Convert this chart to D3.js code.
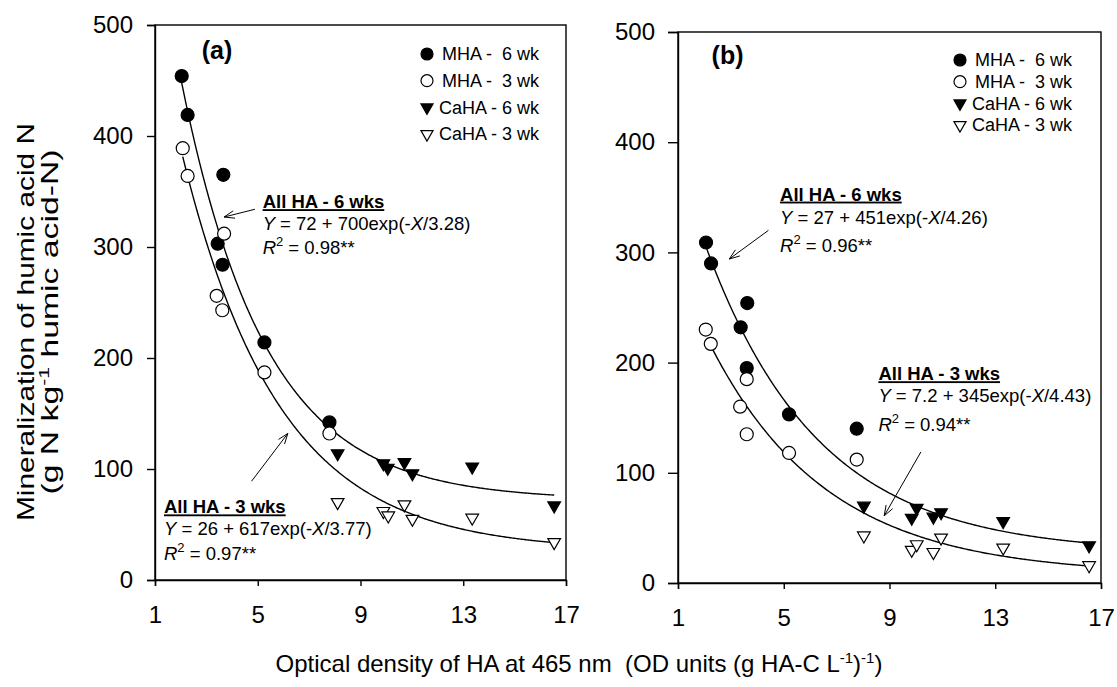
<!DOCTYPE html>
<html>
<head>
<meta charset="utf-8">
<script src="https://cdn.jsdelivr.net/npm/d3@7"></script>
<style>
  body { margin: 0; background: #fff; }
  svg { display: block; }
  text { font-family: "Liberation Sans", Arial, sans-serif; fill: #000; }
</style>
</head>
<body>
<div class="chart"></div>
<script>
// axis ticks, shared by both panels
const xTicks = [1, 5, 9, 13, 17];
const yTicks = [0, 100, 200, 300, 400, 500];
const legendNames = ["MHA -  6 wk", "MHA -  3 wk", "CaHA - 6 wk", "CaHA - 3 wk"];

// panel (a) data, [OD, mineralized N]
const aMha6 = [[2.04, 454], [2.27, 419], [3.66, 365], [3.44, 303], [3.63, 284], [5.26, 214], [7.79, 142]];
const aMha3 = [[2.08, 389], [2.27, 364], [3.69, 312], [3.40, 256], [3.62, 243], [5.26, 187], [7.79, 132]];
const aCa6 = [[8.11, 114], [9.89, 105], [10.06, 101], [10.71, 106], [11.02, 96], [13.35, 102], [16.54, 67]];
const aCa3 = [[8.11, 70], [9.89, 62], [10.08, 58], [10.71, 68], [11.02, 55], [13.35, 56], [16.54, 34]];

// panel (b) data
const bMha6 = [[2.06, 309], [2.25, 290], [3.62, 254], [3.37, 232], [3.60, 195], [5.20, 153], [7.76, 140]];
const bMha3 = [[2.05, 230], [2.24, 217], [3.60, 185], [3.35, 160], [3.60, 135], [5.20, 118], [7.76, 112]];
const bCa6 = [[8.03, 70], [9.84, 59], [10.03, 68], [10.66, 60], [10.95, 64], [13.30, 56], [16.55, 34]];
const bCa3 = [[8.03, 43], [9.84, 30], [10.03, 35], [10.66, 28], [10.95, 41], [13.30, 32], [16.55, 16]];

// fitted curves Y = c + a*exp(-X/k) as printed on the chart: [c, a, k], plus drawn X range
const aFit6 = [72, 700, 3.28], aFit6Range = [2.04, 16.54];
const aFit3 = [26, 617, 3.77], aFit3Range = [2.08, 16.54];
const bFit6 = [27, 451, 4.26], bFit6Range = [2.06, 16.55];
const bFit3 = [7.2, 345, 4.43], bFit3Range = [2.20, 16.55];

const width = 1117, height = 687;

const svg = d3.select(".chart")
    .append("svg")
    .attr("width", width)
    .attr("height", height);

svg.append("rect").attr("width", width).attr("height", height).attr("fill", "#fff");

const panels = [
  {
    label: "(a)", labelAt: [2.82, 469],
    box: {left: 155, right: 566, top: 25, bottom: 580},
    yTick: 8, yPad: 14,
    series: [aMha6, aMha3, aCa6, aCa3],
    fits: [[aFit6, aFit6Range], [aFit3, aFit3Range]],
    legend: {x: 272, y: 29, step: 26.7},
    notes: [
      {at: [5.19, 335], gaps: [0, 22, 46], title: "All HA - 6 wks", c: "72", a: "700", k: "3.28", r2: "0.98**",
       arrow: [[4.89, 334], [3.69, 327]]},
      {at: [1.35, 60], gaps: [0, 22, 47], title: "All HA - 3 wks", c: "26", a: "617", k: "3.77", r2: "0.97**",
       arrow: [[4.76, 89], [6.17, 132]]}
    ]
  },
  {
    label: "(b)", labelAt: [2.27, 471],
    box: {left: 678, right: 1101, top: 32, bottom: 583},
    yTick: 10, yPad: 13,
    series: [bMha6, bMha3, bCa6, bCa3],
    fits: [[bFit6, bFit6Range], [bFit3, bFit3Range]],
    legend: {x: 282, y: 28, step: 21.7},
    notes: [
      {at: [4.86, 347], gaps: [0, 23, 51], title: "All HA - 6 wks", c: "27", a: "451", k: "4.26", r2: "0.96**",
       arrow: [[4.42, 320], [2.94, 294]]},
      {at: [8.58, 184], gaps: [0, 22, 51], title: "All HA - 3 wks", c: "7.2", a: "345", k: "4.43", r2: "0.94**",
       arrow: [[10.19, 119], [8.80, 61]]}
    ]
  }
];

// marker look per series: circle or down triangle, filled or open
const markerStyle = [
  {shape: "circle", fill: "#000"},
  {shape: "circle", fill: "#fff"},
  {shape: "triangle", fill: "#000"},
  {shape: "triangle", fill: "#fff"}
];

function addMarker(g, style, x, y, r) {
  if (style.shape === "circle") {
    g.append("circle")
      .attr("cx", x).attr("cy", y).attr("r", r)
      .attr("fill", style.fill)
      .attr("stroke", "#000").attr("stroke-width", 1.2);
  } else {
    const s = r * 1.95;
    g.append("path")
      .attr("d", d3.symbol().type(d3.symbolTriangle).size(s * s * 0.433)())
      .attr("transform", `translate(${x},${y}) rotate(180)`)
      .attr("fill", style.fill)
      .attr("stroke", "#000").attr("stroke-width", 1.2);
  }
}

panels.forEach(p => {
  const b = p.box;
  const x = d3.scaleLinear().domain([1, 17]).range([b.left, b.right]);
  const y = d3.scaleLinear().domain([0, 500]).range([b.bottom, b.top]);
  const g = svg.append("g");

  // frame
  g.append("rect")
    .attr("x", b.left).attr("y", b.top)
    .attr("width", b.right - b.left).attr("height", b.bottom - b.top)
    .attr("fill", "none").attr("stroke", "#000").attr("stroke-width", 1.4);

  const yAxis = d3.axisLeft(y).tickValues(yTicks).tickSize(p.yTick).tickPadding(p.yPad);
  const xAxis = d3.axisBottom(x).tickValues(xTicks).tickSize(6).tickPadding(20);

  const ya = g.append("g").attr("transform", `translate(${b.left},0)`).call(yAxis);
  const xa = g.append("g").attr("transform", `translate(0,${b.bottom})`).call(xAxis);
  [ya, xa].forEach(a => {
    a.attr("font-family", null).attr("font-size", null);
    a.select(".domain").attr("stroke", "#000").attr("stroke-width", 1.4);
    a.selectAll(".tick line").attr("stroke", "#000").attr("stroke-width", 1.4);
    a.selectAll(".tick text").attr("font-size", 24).attr("fill", "#000");
  });

  // fitted curves
  const line = d3.line().x(d => x(d[0])).y(d => y(d[1]));
  p.fits.forEach(([f, r]) => {
    const xs = d3.range(r[0], r[1], 0.05).concat([r[1]]);
    g.append("path")
      .datum(xs.map(v => [v, f[0] + f[1] * Math.exp(-v / f[2])]))
      .attr("d", line)
      .attr("fill", "none").attr("stroke", "#000").attr("stroke-width", 1.4);
  });

  // data markers
  p.series.forEach((s, i) => {
    s.forEach(d => addMarker(g, markerStyle[i], x(d[0]), y(d[1]), 6.5));
  });

  // panel letter
  g.append("text")
    .attr("x", x(p.labelAt[0])).attr("y", y(p.labelAt[1]))
    .attr("font-size", 25).attr("font-weight", "bold")
    .text(p.label);

  // legend
  const lg = g.append("g").attr("transform", `translate(${b.left + p.legend.x},${b.top + p.legend.y})`);
  legendNames.forEach((name, i) => {
    addMarker(lg, markerStyle[i], 0, i * p.legend.step, i < 2 ? 6 : 6.2);
    lg.append("text")
      .attr("x", i < 2 ? 15 : 12).attr("y", i * p.legend.step)
      .attr("dy", "0.35em")
      .attr("font-size", 18)
      .style("white-space", "pre")
      .text(name);
  });

  // regression notes
  p.notes.forEach(n => {
    const tx = x(n.at[0]), ty = y(n.at[1]);
    g.append("text")
      .attr("x", tx).attr("y", ty + n.gaps[0])
      .attr("font-size", 18.5).attr("font-weight", "bold")
      .attr("text-decoration", "underline")
      .text(n.title);

    const t2 = g.append("text").attr("x", tx).attr("y", ty + n.gaps[1]).attr("font-size", 18.5).style("white-space", "pre");
    t2.append("tspan").attr("font-style", "italic").text("Y");
    t2.append("tspan").text(` = ${n.c} + ${n.a}exp(-`);
    t2.append("tspan").attr("font-style", "italic").text("X");
    t2.append("tspan").text(`/${n.k})`);

    const t3 = g.append("text").attr("x", tx).attr("y", ty + n.gaps[2]).attr("font-size", 18.5).style("white-space", "pre");
    t3.append("tspan").attr("font-style", "italic").text("R");
    t3.append("tspan").attr("font-size", 13).attr("dy", -8).text("2");
    t3.append("tspan").attr("dy", 8).text(` = ${n.r2}`);

    // arrow with open head
    const x0 = x(n.arrow[0][0]), y0 = y(n.arrow[0][1]);
    const x1 = x(n.arrow[1][0]), y1 = y(n.arrow[1][1]);
    const ang = Math.atan2(y1 - y0, x1 - x0);
    g.append("line")
      .attr("x1", x0).attr("y1", y0).attr("x2", x1).attr("y2", y1)
      .attr("stroke", "#000").attr("stroke-width", 1);
    [-0.35, 0.35].forEach(da => {
      g.append("line")
        .attr("x1", x1).attr("y1", y1)
        .attr("x2", x1 - 11 * Math.cos(ang + da)).attr("y2", y1 - 11 * Math.sin(ang + da))
        .attr("stroke", "#000").attr("stroke-width", 1);
    });
  });
});

// shared axis titles
const yTitle = svg.append("g").attr("transform", "translate(0,322)");
yTitle.append("text")
  .attr("transform", "translate(34,0) rotate(-90)")
  .attr("text-anchor", "middle")
  .attr("font-size", 24)
  .attr("textLength", 398).attr("lengthAdjust", "spacingAndGlyphs")
  .text("Mineralization of humic acid N");
const yt2 = yTitle.append("text")
  .attr("transform", "translate(58,0) rotate(-90)")
  .attr("text-anchor", "middle")
  .attr("font-size", 24)
  .attr("textLength", 345).attr("lengthAdjust", "spacingAndGlyphs");
yt2.append("tspan").text("(g N kg");
yt2.append("tspan").attr("font-size", 15).attr("dy", -9).text("-1");
yt2.append("tspan").attr("dy", 9).text(" humic acid-N)");

const xt = svg.append("text")
  .attr("x", 579).attr("y", 672)
  .attr("text-anchor", "middle")
  .attr("font-size", 24)
  .style("white-space", "pre");
xt.append("tspan").text("Optical density of HA at 465 nm  (OD units (g HA-C L");
xt.append("tspan").attr("font-size", 15).attr("dy", -9).text("-1");
xt.append("tspan").attr("dy", 9).text(")");
xt.append("tspan").attr("font-size", 15).attr("dy", -9).text("-1");
xt.append("tspan").attr("dy", 9).text(")");
</script>
</body>
</html>
